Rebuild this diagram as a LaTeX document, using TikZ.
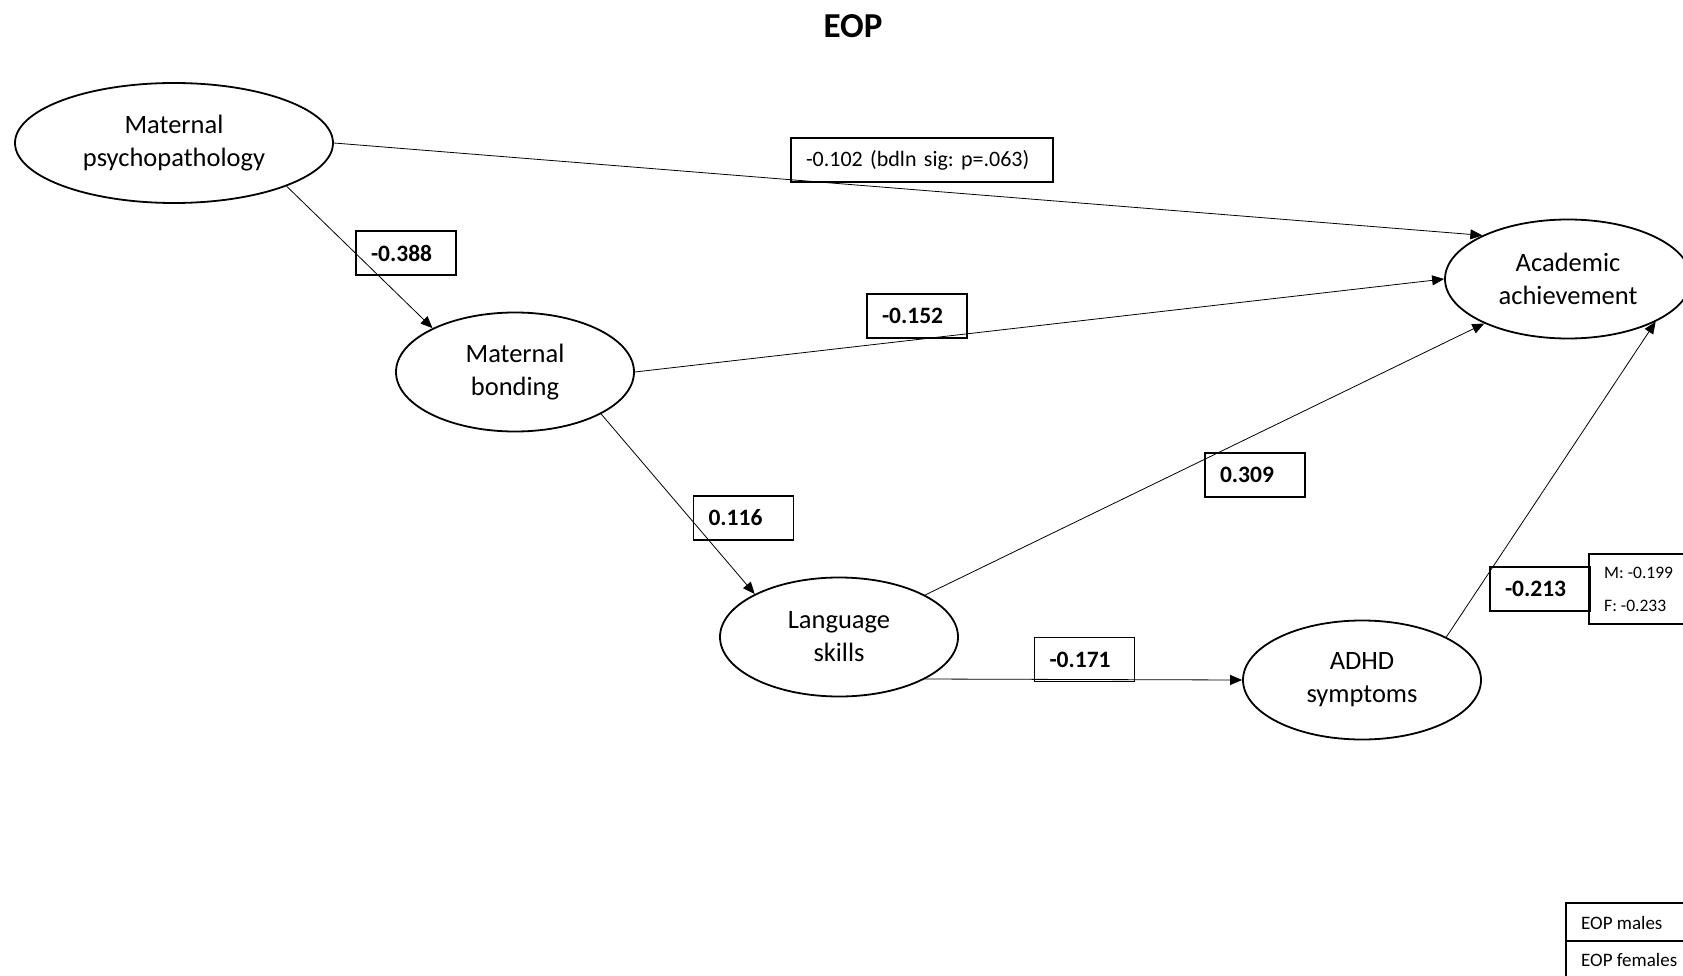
\documentclass[tikz,border=0pt]{standalone}
\usepackage{fontspec}
\setmainfont{Carlito}
\usetikzlibrary{shapes.geometric,arrows.meta}
\begin{document}
\frenchspacing
\begin{tikzpicture}[x=1pt,y=-1pt,
 lat/.style={ellipse,draw,line width=1.8pt,minimum width=238pt,minimum height=119pt,inner sep=0pt,align=center,font=\fontsize{26.5}{33}\selectfont},
 coef/.style={draw,line width=1.6pt,text width=70pt,inner xsep=15pt,minimum height=44pt,inner ysep=0pt,align=left,font=\fontsize{23.5}{28}\selectfont\bfseries},
 conn/.style={line width=0.8pt,-{Triangle[length=12pt,width=10pt]}},
 small/.style={inner sep=0pt,anchor=west}]
\useasboundingbox (0,0) rectangle (1683,976);
\node[font=\fontsize{35}{40}\selectfont\bfseries] (title) at (853,26) {EOP};
\node[lat,minimum width=318pt,minimum height=120pt] (mp) at (174,143) {Maternal\\psychopathology};
\node[lat] (mb) at (515,372) {Maternal\\bonding};
\node[lat] (ls) at (839,637) {Language\\skills};
\node[lat] (adhd) at (1362,680) {ADHD\\symptoms};
\node[lat,minimum width=246pt] (aa) at (1568,279) {Academic\\achievement};
\draw[conn] (mp.east) -- (aa.153);
\draw[conn] (mp.-21.5) -- (mb.152.6);
\draw[conn] (mb.east) -- (aa.west);
\draw[conn] (mb.-26.6) -- (ls.153.4);
\draw[conn] (ls.26) -- (aa.208);
\draw[conn] (ls.-26.6) -- (adhd.west);
\draw[conn] (adhd.27) -- (aa.-26.6);
\node[coef,text width=232pt,font=\fontsize{22}{26}\selectfont] (c1) at (922,160) {-0.102 (bdln sig: p=.063)};
\node[coef] (c2) at (406,253) {-0.388};
\node[coef] (c3) at (917,316) {-0.152};
\node[coef] (c4) at (743.5,518) {0.116};
\node[coef] (c5) at (1255,475) {0.309};
\node[coef] (c6) at (1084.5,659.5) {-0.171};
\node[coef] (c7) at (1540,589) {-0.213};
\draw[line width=1.6pt] (1589,554) rectangle (1700,624);
\node[small,font=\fontsize{17.5}{20}\selectfont] (m) at (1604,573) {M: -0.199};
\node[small,font=\fontsize{17.5}{20}\selectfont] (f) at (1604,606) {F: -0.233};
\draw[line width=1.4pt] (1566,903) rectangle (1700,941);
\draw[line width=1.4pt] (1566,941) rectangle (1700,990);
\node[small,font=\fontsize{19}{22}\selectfont] (lm) at (1581,923) {EOP males};
\node[small,font=\fontsize{19}{22}\selectfont] (lf) at (1581,960) {EOP females};
\end{tikzpicture}
\end{document}
